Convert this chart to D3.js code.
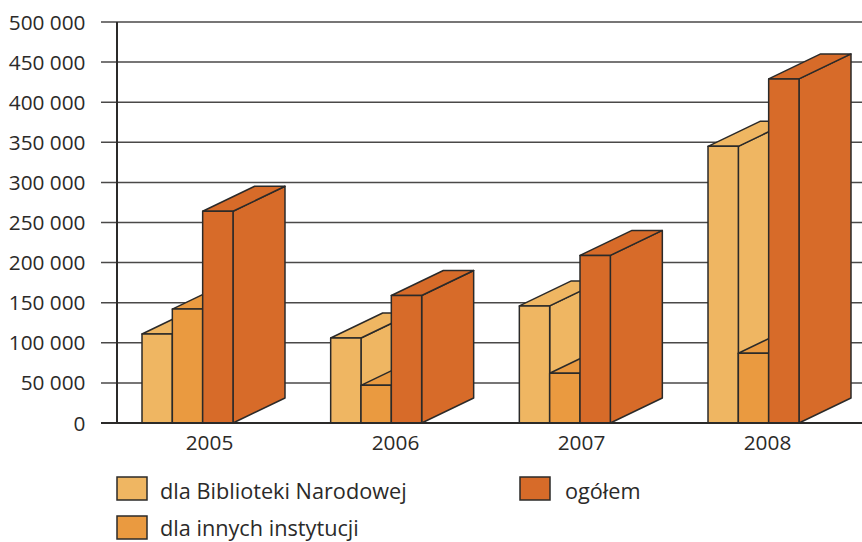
<!DOCTYPE html>
<html><head><meta charset="utf-8">
<script src="https://cdn.jsdelivr.net/npm/d3@7/dist/d3.min.js"></script>
<style>html,body{margin:0;padding:0;background:#fff}svg{display:block}text{font-family:"Open Sans",sans-serif;fill:#2b2a29}</style>
</head><body><svg id="c" width="862" height="542"></svg>
<script>
const years = ["2005","2006","2007","2008"];
const seriesNames = ["dla Biblioteki Narodowej","dla innych instytucji","ogółem"];
const biblioteka = [111000,106000,146000,345000];
const inne = [142000,47000,62000,87000];
const ogolem = [264000,159000,209000,429000];
const tickValues = [0,50000,100000,150000,200000,250000,300000,350000,400000,450000,500000];
const colors = ["#EFB662","#EA9A40","#D76B29"];
const ink = "#2b2a29";

const svg = d3.select("#c");
const y = d3.scaleLinear().domain([0,500000]).range([423,22]);
const x0 = d3.scaleBand().domain(years).range([142,799]).paddingInner(0.5177).paddingOuter(0);
const x1 = d3.scaleBand().domain(seriesNames).range([0,x0.bandwidth()]);
const xLabel = d3.scalePoint().domain(years).range([209,767]);
const fmt = d3.formatLocale({thousands:" ",grouping:[3],decimal:",",currency:["",""]}).format(",d");
const depthX = 52, depthY = -25;

// grid and y labels
const yAxis = d3.axisLeft(y).tickValues(tickValues).tickFormat(fmt).tickSize(0).tickPadding(0);
const gy = svg.append("g").attr("transform","translate(85.5,0)").call(yAxis);
gy.select(".domain").remove();
gy.selectAll("text").attr("font-size",20.8).style("fill",ink).attr("dy","0.34em");
svg.append("g").selectAll("line").data(tickValues).join("line")
  .attr("x1",101).attr("x2",862).attr("y1",d=>y(d)).attr("y2",d=>y(d))
  .attr("stroke","#4a4948").attr("stroke-width",d=>d===0?2:1.5);
svg.append("line").attr("x1",117).attr("x2",117).attr("y1",y(500000)).attr("y2",y(0))
  .attr("stroke",ink).attr("stroke-width",2);

// 3D bars
const data = years.map((yr,i)=>({yr,vals:[biblioteka[i],inne[i],ogolem[i]]}));
data.forEach(d=>{
  d.vals.forEach((v,k)=>{
    const name = seriesNames[k];
    const xa = x0(d.yr)+x1(name), xb = xa+x1.bandwidth(), t = y(v), b = y(0);
    const g = svg.append("g").attr("fill",colors[k]).attr("stroke",ink).attr("stroke-width",1.5).attr("stroke-linejoin","round");
    const poly = pts => g.append("polygon").attr("points",pts.map(p=>p.join(",")).join(" "));
    poly([[xb,b],[xb+depthX,b+depthY],[xb+depthX,t+depthY],[xb,t]]);
    poly([[xa,t],[xa+depthX,t+depthY],[xb+depthX,t+depthY],[xb,t]]);
    poly([[xa,b],[xb,b],[xb,t],[xa,t]]);
  });
});
svg.append("line").attr("x1",101).attr("x2",862).attr("y1",y(0)).attr("y2",y(0)).attr("stroke",ink).attr("stroke-width",2);

// x labels
const xAxis = d3.axisBottom(xLabel).tickSize(0).tickPadding(0);
const gx = svg.append("g").attr("transform","translate(0,435)").call(xAxis);
gx.select(".domain").remove();
gx.selectAll("text").attr("font-size",20.8).style("fill",ink).attr("dy","0.72em");

// legend
const legendItems = [[0,117,477,22],[1,117,516,20],[2,520,477,22]];
const lg = svg.append("g").selectAll("g").data(legendItems).join("g").attr("transform",d=>`translate(${d[1]},${d[2]})`);
lg.append("rect").attr("width",30).attr("height",23).attr("fill",d=>colors[d[0]]).attr("stroke",ink).attr("stroke-width",1.5);
lg.append("text").attr("x",d=>d[0]===2?45:43).attr("y",d=>d[3]).attr("font-size",21.7).text(d=>seriesNames[d[0]]);
</script></body></html>
